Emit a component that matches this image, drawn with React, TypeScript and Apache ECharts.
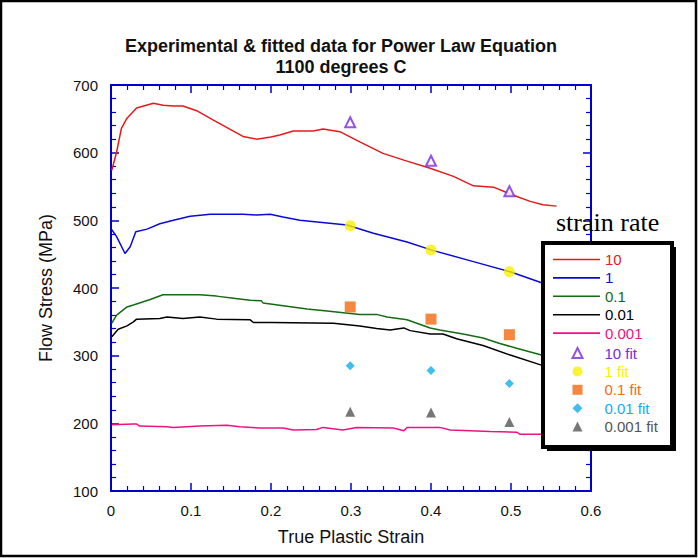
import React, { useEffect, useRef } from "react";
import * as echarts from "echarts";

const rate10: [number, number][] = [[0.001,574],[0.007,601],[0.013,636],[0.02,651],[0.032,666],[0.053,673],[0.065,670],[0.078,669],[0.09,669],[0.107,662],[0.128,648],[0.145,637],[0.165,624],[0.182,620],[0.2,623],[0.211,626],[0.228,632],[0.253,632],[0.265,635],[0.286,631],[0.311,616],[0.34,599],[0.366,589],[0.399,577],[0.428,565],[0.453,551],[0.478,549],[0.503,537],[0.524,528],[0.54,523],[0.557,521]];
const rate1: [number, number][] = [[0.001,486],[0.007,476],[0.0175,451],[0.024,461],[0.031,483],[0.045,487],[0.061,495],[0.078,500],[0.099,506],[0.124,509],[0.165,509],[0.182,508],[0.199,509],[0.215,505],[0.236,500],[0.295,493],[0.328,481],[0.37,468],[0.401,456],[0.453,439],[0.499,424],[0.54,407],[0.55,403]];
const rate01: [number, number][] = [[0.001,348],[0.007,360],[0.02,372],[0.028,375],[0.049,383],[0.065,390],[0.111,390],[0.132,388],[0.153,385],[0.174,382],[0.188,381],[0.19,378],[0.245,369],[0.27,366],[0.311,361],[0.332,361],[0.345,357],[0.37,353],[0.399,341],[0.411,338],[0.44,332],[0.465,326],[0.486,318],[0.507,311],[0.538,301],[0.55,298]];
const rate001: [number, number][] = [[0.001,328],[0.009,339],[0.02,344],[0.028,350],[0.032,354],[0.061,355],[0.07,357],[0.09,355],[0.111,357],[0.132,354],[0.174,353],[0.178,349],[0.201,349],[0.278,348],[0.311,344],[0.332,340],[0.349,338],[0.366,341],[0.374,337],[0.399,332],[0.415,332],[0.432,325],[0.465,315],[0.499,301],[0.538,286],[0.55,282]];
const rate0001: [number, number][] = [[0.001,198],[0.028,199],[0.032,199],[0.036,196],[0.07,195],[0.078,194],[0.111,196],[0.145,197],[0.161,195],[0.186,193],[0.215,193],[0.228,190],[0.257,191],[0.265,194],[0.29,190],[0.307,194],[0.353,193],[0.366,189],[0.37,194],[0.411,194],[0.424,190],[0.474,188],[0.507,187],[0.511,184],[0.55,184]];

const fitStrain = [0.299, 0.4, 0.498];
const fit10 = [645, 588, 543];
const fit1 = [492, 456, 424];
const fit01 = [372, 354, 331];
const fit001 = [285, 278, 259];
const fit0001 = [217, 216, 202];

const lineNames = ["10", "1", "0.1", "0.01", "0.001"];
const fitNames = ["10 fit", "1 fit", "0.1 fit", "0.01 fit", "0.001 fit"];

const AXIS = "#0000cc";
const FONT = "Liberation Sans, Arial, sans-serif";

export default function App() {
  const ref = useRef<HTMLDivElement>(null);
  useEffect(() => {
    if (!ref.current) return;
    const chart = echarts.init(ref.current, undefined, { renderer: "svg" });
    const lineColors = ["#e8191b", "#0a0ad8", "#146b14", "#000000", "#ee1283"];
    const fitColors = ["#7b28e0", "#f8f000", "#f26a12", "#10aee8", "#555555"];
    const lineData = [rate10, rate1, rate01, rate001, rate0001];
    const fitData = [fit10, fit1, fit01, fit001, fit0001];
    const fitSymbols = ["emptyTriangle", "circle", "rect", "diamond", "triangle"];
    const fitSizes = [10, 11, 11, 9, 10];

    const xBase = {
      type: "value" as const,
      min: 0,
      max: 0.6,
      interval: 0.1,
      axisLine: { show: true, onZero: false, lineStyle: { color: AXIS, width: 2 } },
      axisTick: { show: true, inside: true, length: 8, lineStyle: { color: AXIS, width: 1.5 } },
      minorTick: { show: true, splitNumber: 5, length: 5, lineStyle: { color: AXIS, width: 1.2 } },
      splitLine: { show: false },
    };
    const yBase = {
      type: "value" as const,
      min: 100,
      max: 700,
      interval: 100,
      axisLine: { show: true, onZero: false, lineStyle: { color: AXIS, width: 2 } },
      axisTick: { show: true, inside: true, length: 8, lineStyle: { color: AXIS, width: 1.5 } },
      minorTick: { show: true, splitNumber: 5, length: 5, lineStyle: { color: AXIS, width: 1.2 } },
      splitLine: { show: false },
    };

    const series: any[] = [];
    lineNames.forEach((n, i) => {
      series.push({
        name: n,
        type: "line",
        data: lineData[i],
        symbol: "none",
        lineStyle: { color: lineColors[i], width: 1.5 },
        itemStyle: { color: lineColors[i] },
        z: 2,
      });
    });
    fitNames.forEach((n, i) => {
      series.push({
        name: n,
        type: "scatter",
        data: fitStrain.map((x, k) => [x, fitData[i][k]]),
        symbol: fitSymbols[i],
        symbolSize: fitSizes[i],
        itemStyle:
          i === 0
            ? { color: fitColors[i], borderColor: fitColors[i], borderWidth: 1.5 }
            : { color: fitColors[i] },
        z: 3,
      });
    });

    const lineIcon = "path://M0,0L47,0L47,1.6L0,1.6Z";
    const legendLines = lineNames.map((n, i) => ({
      name: n,
      icon: lineIcon,
      textStyle: { color: lineColors[i] },
    }));
    const legendFits = fitNames.map((n, i) => ({
      name: n,
      textStyle: { color: fitColors[i], padding: [0, 0, 0, 17] },
    }));

    const ROW = 18.7;
    const legendText = { fontFamily: FONT, fontSize: 15, lineHeight: 14 };

    chart.setOption({
      animation: false,
      textStyle: { fontFamily: FONT },
      title: {
        text: "Experimental & fitted data for Power Law Equation\n1100 degrees C",
        left: 341,
        top: 35,
        textAlign: "center",
        padding: 0,
        textStyle: { fontFamily: FONT, fontSize: 18, fontWeight: "bold", color: "#111", lineHeight: 21 },
      },
      grid: { left: 111, top: 85, width: 480, height: 406, containLabel: false },
      xAxis: [
        {
          ...xBase,
          position: "bottom",
          name: "True Plastic Strain",
          nameLocation: "middle",
          nameGap: 37,
          nameTextStyle: { fontFamily: FONT, fontSize: 18, color: "#111" },
          axisLabel: { fontFamily: FONT, fontSize: 15, color: "#111", margin: 12 },
        },
        { ...xBase, position: "top", axisLabel: { show: false } },
      ],
      yAxis: [
        {
          ...yBase,
          position: "left",
          name: "Flow Stress (MPa)",
          nameLocation: "middle",
          nameGap: 56,
          nameRotate: 90,
          nameTextStyle: { fontFamily: FONT, fontSize: 18, color: "#111" },
          axisLabel: { fontFamily: FONT, fontSize: 15, color: "#111", margin: 13 },
        },
        { ...yBase, position: "right", axisLabel: { show: false } },
      ],
      legend: [
        {
          orient: "vertical",
          left: 553,
          top: 252,
          padding: 0,
          itemWidth: 47,
          itemHeight: 10,
          itemGap: 3.4,
          data: legendLines,
          textStyle: legendText,
          z: 6,
        },
        {
          orient: "vertical",
          left: 571.5,
          top: 252 + ROW * 5,
          padding: 0,
          itemWidth: 10,
          itemHeight: 10,
          itemGap: 3.4,
          data: legendFits,
          textStyle: legendText,
          z: 6,
        },
      ],
      graphic: [
        {
          type: "rect",
          z: 0,
          silent: true,
          shape: { x: 1, y: 1, width: 695, height: 555 },
          style: { fill: "none", stroke: "#000", lineWidth: 2.5 },
        },
        {
          type: "rect",
          z: 4,
          silent: true,
          shape: { x: 547, y: 247, width: 129, height: 204 },
          style: { fill: "#000" },
        },
        {
          type: "rect",
          z: 5,
          silent: true,
          shape: { x: 543, y: 243, width: 129, height: 204 },
          style: { fill: "#fff", stroke: "#000", lineWidth: 4 },
        },
        {
          type: "text",
          z: 5,
          silent: true,
          x: 556,
          y: 222,
          style: {
            text: "strain rate",
            fontFamily: "Liberation Serif, Times New Roman, serif",
            fontSize: 26,
            fill: "#000",
            verticalAlign: "middle",
          },
        },
      ],
      series,
    });
    return () => chart.dispose();
  }, []);
  return (
    <div
      ref={ref}
      style={{ position: "absolute", left: 0, top: 0, width: 698, height: 558, background: "#fff" }}
    />
  );
}
